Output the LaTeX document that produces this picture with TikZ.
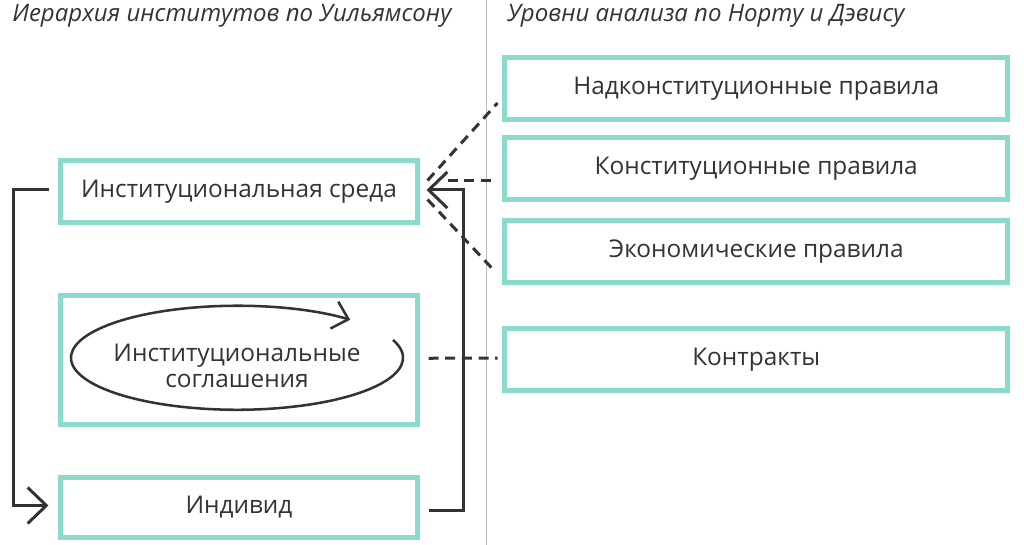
\documentclass[tikz,border=0pt]{standalone}
\usepackage{fontspec}
\setmainfont{Open Sans}
\usetikzlibrary{arrows.meta,calc}
\definecolor{teal1}{HTML}{8CDACB}
\definecolor{ink}{HTML}{333333}
\definecolor{divider}{HTML}{BBBBBB}
\tikzset{
  chev/.tip={Straight Barb[length=14pt,width=27pt,line width=2.25pt]},
  chevs/.tip={Straight Barb[length=11pt,width=21pt,line width=1.9pt]},
}
\begin{document}
\begin{tikzpicture}[x=0.75pt,y=-0.75pt,
  box/.style={draw=teal1,line width=3.75pt,outer sep=0pt,inner sep=0pt,
    anchor=north west,font=\fontsize{18.3}{20}\selectfont,text=ink},
  lbox/.style={box,minimum width=267.75pt},
  rbox/.style={box,minimum width=377.6pt,minimum height=46.5pt},
  conn/.style={draw=ink,line width=2.25pt},
  dashline/.style={draw=ink,line width=2.25pt,dash pattern=on 7.5pt off 5pt},
  ttl/.style={anchor=west,inner sep=0pt,font=\fontsize{18}{20}\selectfont\itshape,text=ink},
]
\useasboundingbox (0,0) rectangle (1024,545);
\draw[divider,line width=0.75pt] (486,0) -- (486,545);

\node[ttl] (t1) at (12,16) {Иерархия институтов по Уильямсону};
\node[ttl] (t2) at (507,16) {Уровни анализа по Норту и Дэвису};

\node[lbox,minimum height=46.5pt] (env) at (60.5,160.5) {Институциональная среда};
\node[lbox,minimum height=96.4pt] (agr) at (60.5,295.5) {};
\node[lbox,minimum height=45pt] (ind) at (60.5,477.5) {Индивид};

\node[rbox] (nadk) at (504.5,57.5) {Надконституционные правила};
\node[rbox] (konst) at (504.5,137.5) {Конституционные правила};
\node[rbox] (econ) at (504.5,220.5) {Экономические правила};
\node[rbox] (contr) at (504.5,328.5) {Контракты};

\coordinate (ec) at ($(agr.center)+(-2,-2)$);
\node[align=center,inner sep=0pt,font=\fontsize{18.3}{19.5}\selectfont,text=ink] (agrtext) at ($(ec)+(0,8)$) {Институциональные\\соглашения};
\draw[conn,line width=1.9pt,-{chevs}] ($(ec)+(20:124.5pt and 39pt)$) arc[start angle=20,end angle=-313,x radius=124.5pt,y radius=39pt];

\draw[conn,-{chev}] ($(env.west)+(-12,-2)$) -- ++(-35,0) |- ($(ind.west)+(-12,-2)$);
\draw[conn,-{chev}] ($(ind.east)+(11,3)$) -- ++(35,0) |- ($(env.east)+(9,-1.5)$);

\draw[dashline] ($(env.east)+(10,-11)$) -- ($(nadk.west)+(-7,14.5)$);
\draw[dashline] ($(env.east)+(30,-10.5)$) -- ($(konst.west)+(-9,12.5)$);
\draw[dashline] ($(env.east)+(10,8)$) -- ($(econ.west)+(-9,20.5)$);
\draw[dashline] ($(agr.east)+(11,-1.5)$) -- ($(contr.west)+(-7,-1.5)$);
\end{tikzpicture}
\end{document}
